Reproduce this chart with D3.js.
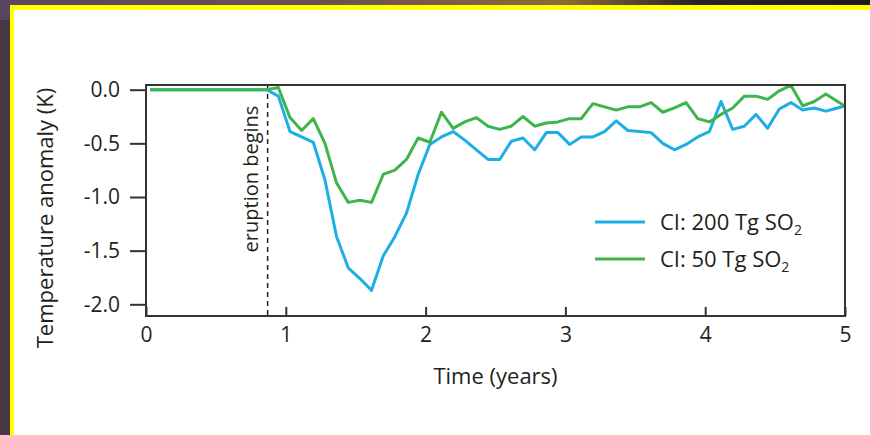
<!DOCTYPE html>
<html>
<head>
<meta charset="utf-8">
<script src="https://cdn.jsdelivr.net/npm/d3@7"></script>
<style>
  html, body { margin: 0; padding: 0; background: #3a2c34; }
  svg { display: block; }
  text { font-family: "Open Sans", sans-serif; fill: #231f20; }
</style>
</head>
<body>
<div id="chart"></div>
<script>
// monthly means, month index 0..60 (first value sits a little after t = 0)
const monthIndex = d3.range(61);
const monthOffset = 0.36;

const ci200 = [0, 0, 0, 0, 0, 0, 0, 0, 0, 0, 0,
  -0.06, -0.39, -0.44, -0.49, -0.84, -1.37, -1.66, -1.76, -1.87, -1.55,
  -1.37, -1.15, -0.79, -0.51, -0.44, -0.39, -0.47, -0.56, -0.65, -0.65,
  -0.48, -0.45, -0.56, -0.40, -0.40, -0.51, -0.44, -0.44, -0.39, -0.29,
  -0.38, -0.39, -0.40, -0.50, -0.56, -0.51, -0.44, -0.39, -0.11, -0.37,
  -0.34, -0.23, -0.36, -0.18, -0.12, -0.19, -0.17, -0.20, -0.17, -0.14];

const ci50 = [0, 0, 0, 0, 0, 0, 0, 0, 0, 0, 0,
  0.02, -0.26, -0.38, -0.27, -0.50, -0.87, -1.05, -1.03, -1.05, -0.79,
  -0.75, -0.65, -0.45, -0.49, -0.21, -0.36, -0.30, -0.26, -0.34, -0.37,
  -0.34, -0.25, -0.34, -0.31, -0.30, -0.27, -0.27, -0.13, -0.16, -0.19,
  -0.16, -0.16, -0.12, -0.21, -0.17, -0.12, -0.27, -0.30, -0.23, -0.17,
  -0.06, -0.06, -0.09, -0.01, 0.04, -0.15, -0.11, -0.04, -0.11, -0.18];

const xTicks = [0, 1, 2, 3, 4, 5];
const yTicks = [0, -0.5, -1, -1.5, -2];
const eruptionStart = 0.87;

const seriesNames = ["CI: 200 Tg SO", "CI: 50 Tg SO"];
const seriesColors = ["#1eaee6", "#3db54a"];

var width = 870, height = 435;

var svg = d3.select("#chart")
  .append("svg")
  .attr("width", width)
  .attr("height", height);

// dark slide background + yellow frame
var defs = svg.append("defs");
var grad = defs.append("linearGradient").attr("id", "bg").attr("x1", 0).attr("x2", 1);
grad.append("stop").attr("offset", "0%").attr("stop-color", "#5a4560");
grad.append("stop").attr("offset", "40%").attr("stop-color", "#6e5252");
grad.append("stop").attr("offset", "65%").attr("stop-color", "#8a6c3a");
grad.append("stop").attr("offset", "80%").attr("stop-color", "#2a2024");
grad.append("stop").attr("offset", "100%").attr("stop-color", "#1e1a1e");
svg.append("rect").attr("width", width).attr("height", height).attr("fill", "url(#bg)");
svg.append("rect").attr("x", 0).attr("y", 20).attr("width", 10).attr("height", height)
  .attr("fill", "#4a3640");
svg.append("rect").attr("x", 10).attr("y", 5).attr("width", width).attr("height", height)
  .attr("fill", "#ffff00");
svg.append("rect").attr("x", 14).attr("y", 10).attr("width", width).attr("height", height)
  .attr("fill", "#ffffff");

var plot = {left: 146, right: 845, top: 85, bottom: 316};

var x = d3.scaleLinear().domain([0, 5]).range([plot.left, plot.right]);
var y = d3.scaleLinear().domain([0, -2]).range([89.7, 304.3]);

defs.append("clipPath").attr("id", "clip")
  .append("rect")
  .attr("x", plot.left).attr("y", plot.top)
  .attr("width", plot.right - plot.left).attr("height", plot.bottom - plot.top);

// y axis: ticks point outwards
var yAxis = svg.append("g")
  .attr("transform", "translate(" + plot.left + ",0)")
  .call(d3.axisLeft(y).tickValues(yTicks).tickSize(16).tickPadding(10)
    .tickFormat(d3.format(".1f")));
yAxis.select(".domain").remove();
yAxis.selectAll("line").attr("stroke", "#333").attr("stroke-width", 2);
yAxis.selectAll("text").style("font-size", "21px").attr("fill", "#231f20")
  .text(d => d === 0 ? "0.0" : d3.format(".1f")(d).replace("−", "-"));

// x axis: ticks point inwards
var xAxis = svg.append("g")
  .attr("transform", "translate(0," + plot.bottom + ")")
  .call(d3.axisBottom(x).tickValues(xTicks).tickSize(-9).tickPadding(11)
    .tickFormat(d3.format("d")));
xAxis.select(".domain").remove();
xAxis.selectAll("line").attr("stroke", "#333").attr("stroke-width", 2);
xAxis.selectAll("text").style("font-size", "21px").attr("fill", "#231f20");

// eruption marker
svg.append("line")
  .attr("x1", x(eruptionStart)).attr("x2", x(eruptionStart))
  .attr("y1", plot.top).attr("y2", plot.bottom)
  .attr("stroke", "#231f20").attr("stroke-width", 1.5)
  .attr("stroke-dasharray", "5,4");

svg.append("text")
  .attr("transform", "translate(" + (x(eruptionStart) - 10) + "," + 179 + ") rotate(-90)")
  .attr("text-anchor", "middle")
  .style("font-size", "20px")
  .text("eruption begins");

var line = d3.line()
  .x((d, i) => x((monthIndex[i] + monthOffset) / 12))
  .y(d => y(d));

var lines = svg.append("g").attr("clip-path", "url(#clip)");
[ci200, ci50].forEach(function(vals, i) {
  lines.append("path")
    .datum(vals)
    .attr("d", line)
    .attr("fill", "none")
    .attr("stroke", seriesColors[i])
    .attr("stroke-width", 3)
    .attr("stroke-linejoin", "round");
});

// frame
svg.append("rect")
  .attr("x", plot.left).attr("y", plot.top)
  .attr("width", plot.right - plot.left).attr("height", plot.bottom - plot.top)
  .attr("fill", "none").attr("stroke", "#333").attr("stroke-width", 2);

// axis titles
svg.append("text")
  .attr("x", (plot.left + plot.right) / 2).attr("y", 384)
  .attr("text-anchor", "middle")
  .style("font-size", "22px")
  .text("Time (years)");

svg.append("text")
  .attr("transform", "translate(53,218) rotate(-90)")
  .attr("text-anchor", "middle")
  .style("font-size", "22px")
  .text("Temperature anomaly (K)");

// legend
var legend = svg.append("g");
seriesNames.forEach(function(name, i) {
  var ly = 222 + i * 37;
  legend.append("line")
    .attr("x1", 595).attr("x2", 645).attr("y1", ly).attr("y2", ly)
    .attr("stroke", seriesColors[i]).attr("stroke-width", 3);
  var t = legend.append("text")
    .attr("x", 660).attr("y", ly + 8)
    .style("font-size", "22px");
  t.append("tspan").text(name);
  t.append("tspan").attr("dy", 5).style("font-size", "14px").text("2");
});
</script>
</body>
</html>
